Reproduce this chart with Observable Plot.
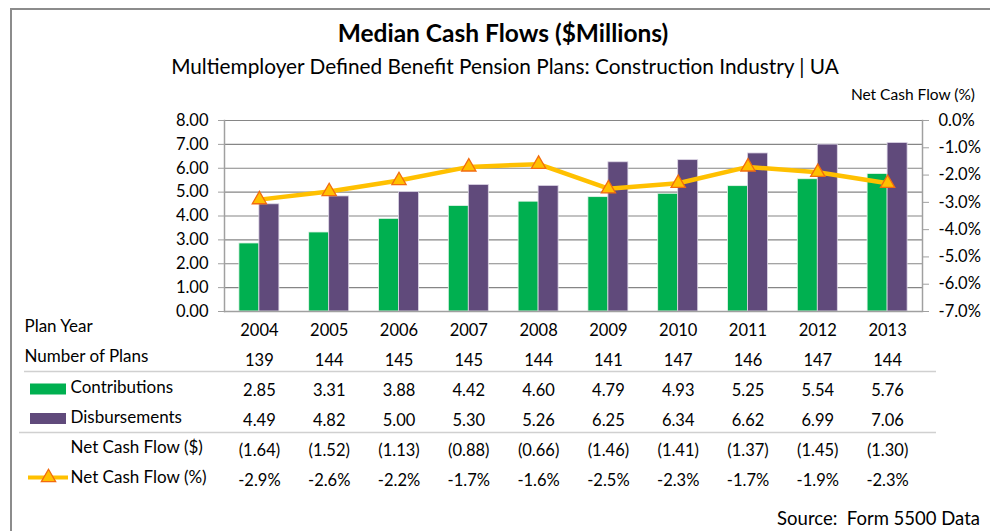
<!DOCTYPE html>
<html>
<head>
<meta charset="utf-8">
<script src="https://cdn.jsdelivr.net/npm/d3@7"></script>
<script src="https://cdn.jsdelivr.net/npm/@observablehq/plot@0.6"></script>
<style>
  html, body { margin: 0; padding: 0; background: #fff; }
  #wrap { position: relative; width: 990px; height: 531px; overflow: hidden; font-family: Lato, "Open Sans", sans-serif; color: #000; background: #fff; }
  #frame { position: absolute; left: 10px; top: 8px; width: 1000px; height: 560px; border-left: 2px solid #8c8c8c; border-top: 2px solid #8c8c8c; }
  #title { position: absolute; left: 8px; width: 990px; top: 18px; text-align: center; font-weight: bold; font-size: 24.5px; line-height: 30px; }
  #subtitle { position: absolute; left: 10px; width: 990px; top: 53px; text-align: center; font-size: 20.8px; line-height: 26px; }
  #rightlabel { position: absolute; right: 15px; top: 84px; font-size: 15.5px; line-height: 20px; }
  #source { position: absolute; right: 10px; top: 506px; font-size: 18.5px; line-height: 24px; white-space: pre; }
  .layer { position: absolute; left: 0; }
</style>
</head>
<body>
<div id="wrap">
  <div id="frame"></div>
  <div id="title">Median Cash Flows ($Millions)</div>
  <div id="subtitle">Multiemployer Defined Benefit Pension Plans: Construction Industry | UA</div>
  <div id="rightlabel">Net Cash Flow (%)</div>
  <div id="bars" class="layer" style="top:110px"></div>
  <div id="line" class="layer" style="top:110px"></div>
  <div id="table" class="layer" style="top:315px"></div>
  <div id="source">Source:  Form 5500 Data</div>
</div>
<script>
// ---- data ----
const years = ["2004", "2005", "2006", "2007", "2008", "2009", "2010", "2011", "2012", "2013"];
const numberOfPlans = [139, 144, 145, 145, 144, 141, 147, 146, 147, 144];
const contributions = [2.85, 3.31, 3.88, 4.42, 4.60, 4.79, 4.93, 5.25, 5.54, 5.76];
const disbursements = [4.49, 4.82, 5.00, 5.30, 5.26, 6.25, 6.34, 6.62, 6.99, 7.06];
const netCashFlowDollar = [-1.64, -1.52, -1.13, -0.88, -0.66, -1.46, -1.41, -1.37, -1.45, -1.30];
const netCashFlowPct = [-2.9, -2.6, -2.2, -1.7, -1.6, -2.5, -2.3, -1.7, -1.9, -2.3];
const leftTicks = [0, 1, 2, 3, 4, 5, 6, 7, 8];
const rightTicks = [-7, -6, -5, -4, -3, -2, -1, 0];
const rowLabels = ["Plan Year", "Number of Plans", "Contributions", "Disbursements", "Net Cash Flow ($)", "Net Cash Flow (%)"];

// ---- styles ----
const GREEN = "#00B050", PURPLE = "#604A7B", GOLD = "#FFC000", ORANGE = "#F26B0F";
const GRID = "#868686", AXIS = "#a0a0a0", SEP = "#d0d0d0";
const FONT = "Lato, 'Open Sans', sans-serif";
const W = 990, mL = 224, mR = 68;
const step = (W - mL - mR) / years.length;
const barW = 20;
const TICK_FS = 16.5, CELL_FS = 16.5, LABEL_FS = 17;

const rows = years.map((year, i) => ({
  year,
  contributions: contributions[i],
  disbursements: disbursements[i],
  pct: netCashFlowPct[i]
}));

const xScale = {type: "band", domain: years, padding: 0, round: false, axis: null};
const baseStyle = {fontFamily: FONT, fontSize: "16px", color: "#000", background: "transparent", overflow: "visible"};

// ---- bars (left axis) ----
const bars = Plot.plot({
  width: W, height: 203,
  marginLeft: mL, marginRight: mR, marginTop: 10, marginBottom: 2,
  style: baseStyle,
  x: xScale,
  y: {domain: [0, 8], axis: null},
  marks: [
    Plot.gridY(leftTicks, {stroke: GRID, strokeOpacity: 1, strokeWidth: 1.2}),
    Plot.barY(rows, {x: "year", y: "contributions", fill: GREEN, stroke: "#e8f5ec", strokeWidth: 0.8,
      insetLeft: step / 2 - barW, insetRight: step / 2}),
    Plot.barY(rows, {x: "year", y: "disbursements", fill: PURPLE, stroke: "#ddd6e6", strokeWidth: 0.8,
      insetLeft: step / 2, insetRight: step / 2 - barW}),
    Plot.ruleY([0], {stroke: AXIS, strokeWidth: 1.5}),
    Plot.frame({anchor: "left", stroke: AXIS, strokeWidth: 1.5}),
    Plot.axisY(leftTicks, {anchor: "left", label: null, tickSize: 6, tickPadding: 10, stroke: AXIS,
      tickFormat: d => d.toFixed(2), fontSize: TICK_FS, fill: "#000"})
  ]
});
document.getElementById("bars").append(bars);

// ---- line (right axis) ----
const line = Plot.plot({
  width: W, height: 203,
  marginLeft: mL, marginRight: mR, marginTop: 10, marginBottom: 2,
  style: baseStyle,
  x: xScale,
  y: {domain: [-7, 0], axis: null},
  marks: [
    Plot.frame({anchor: "right", stroke: AXIS, strokeWidth: 1.5}),
    Plot.axisY(rightTicks, {anchor: "right", label: null, tickSize: 6, tickPadding: 10, stroke: AXIS,
      tickFormat: d => d.toFixed(1) + "%", fontSize: TICK_FS, fill: "#000"}),
    Plot.line(rows, {x: "year", y: "pct", stroke: GOLD, strokeWidth: 4.5}),
    Plot.dot(rows, {x: "year", y: "pct", symbol: "triangle", r: 5.3, fill: GOLD, stroke: ORANGE, strokeWidth: 1.3})
  ]
});
document.getElementById("line").append(line);

// ---- data table ----
const fmt2 = d3.format(".2f");
const cells = years.flatMap((year, i) => [
  {row: rowLabels[0], year, text: year},
  {row: rowLabels[1], year, text: String(numberOfPlans[i])},
  {row: rowLabels[2], year, text: fmt2(contributions[i])},
  {row: rowLabels[3], year, text: fmt2(disbursements[i])},
  {row: rowLabels[4], year, text: netCashFlowDollar[i] < 0 ? "(" + fmt2(-netCashFlowDollar[i]) + ")" : fmt2(netCashFlowDollar[i])},
  {row: rowLabels[5], year, text: netCashFlowPct[i].toFixed(1) + "%"}
]);

const table = Plot.plot({
  width: W, height: 180,
  marginLeft: mL, marginRight: mR, marginTop: 0, marginBottom: 0,
  style: baseStyle,
  x: xScale,
  y: {type: "band", domain: rowLabels, padding: 0, round: false, axis: null},
  marks: [
    // separators
    Plot.ruleY([rowLabels[1]], {stroke: SEP, strokeWidth: 1.5, dy: 11, insetLeft: 24 - mL, insetRight: (W - mR) - 936}),
    Plot.ruleY([rowLabels[3]], {stroke: SEP, strokeWidth: 1.5, dy: 12, insetLeft: 19 - mL, insetRight: (W - mR) - 936}),
    // legend swatches
    Plot.ruleY([rowLabels[2]], {stroke: GREEN, strokeWidth: 11, dy: -1.5, insetLeft: 30 - mL, insetRight: (W - mR) - 66}),
    Plot.ruleY([rowLabels[3]], {stroke: PURPLE, strokeWidth: 11, dy: -2, insetLeft: 30 - mL, insetRight: (W - mR) - 66}),
    Plot.ruleY([rowLabels[5]], {stroke: GOLD, strokeWidth: 4, dy: -3, insetLeft: 28 - mL, insetRight: (W - mR) - 68}),
    Plot.dot([rowLabels[5]], {y: d => d, frameAnchor: "left", dx: 48 - mL, dy: -3, symbol: "triangle", r: 5.3, fill: GOLD, stroke: ORANGE, strokeWidth: 1.3}),
    // row labels
    Plot.text(rowLabels.slice(0, 2), {y: d => d, text: d => d, frameAnchor: "left", textAnchor: "start", dx: 24 - mL, dy: -4, fontSize: LABEL_FS, fill: "#000"}),
    Plot.text(rowLabels.slice(2), {y: d => d, text: d => d, frameAnchor: "left", textAnchor: "start", dx: 70 - mL, dy: -3, fontSize: LABEL_FS, fill: "#000"}),
    // values
    Plot.text(cells, {x: "year", y: "row", text: "text", fontSize: CELL_FS, fill: "#000"})
  ]
});
document.getElementById("table").append(table);
</script>
</body>
</html>
